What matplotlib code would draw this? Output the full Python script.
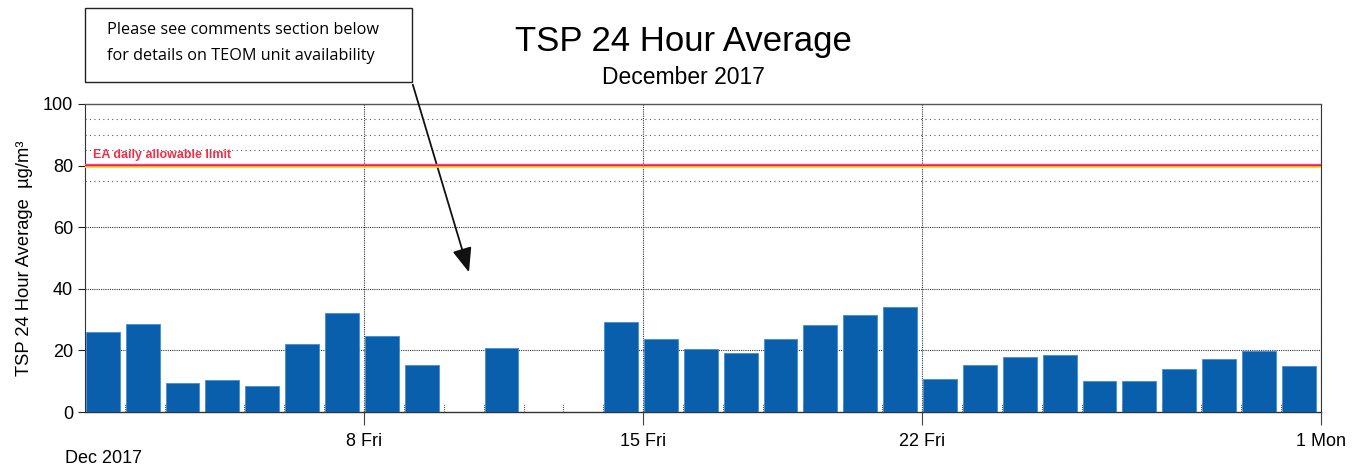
import matplotlib.pyplot as plt
import numpy as np

# daily TSP 24h averages, Dec 2017 (nan = no data)
days = np.arange(1, 32)
tsp = [26.0, 28.5, 9.5, 10.5, 8.6, 22.0, 32.2, 24.6, 15.2, np.nan,
       20.8, np.nan, np.nan, 29.2, 23.8, 20.5, 19.2, 23.8, 28.4, 31.6,
       34.1, 10.6, 15.2, 17.7, 18.4, 10.1, 10.2, 14.1, 17.3, 19.7, 14.8]
limit = 80
major_days = [8, 15, 22, 32]
major_labels = ["8 Fri", "15 Fri", "22 Fri", "1 Mon"]
light_grid = [75, 85, 90, 95]
dark_grid = [20, 40, 60]

plt.rcParams["font.family"] = ["Liberation Sans", "DejaVu Sans"]

fig = plt.figure(figsize=(13.6, 4.65), dpi=100)
ax = fig.add_axes([85 / 1360, 1 - 412 / 465, (1321 - 85) / 1360, (412 - 104) / 465])

x = days - 1
ax.bar(x + 0.02, tsp, width=0.85, align="edge", color="#0a5fad",
       edgecolor="#3f8fd6", linewidth=0.6, zorder=3)

# faint day boundary stubs at base
for d in x[1:]:
    ax.plot([d, d], [0, 2.5], color="#555555", lw=0.8, ls=(0, (1, 1)), zorder=2)

for g in dark_grid:
    ax.axhline(g, color="#333333", lw=0.8, ls=(0, (1, 1)), zorder=1)
for g in light_grid:
    ax.axhline(g, color="#555555", lw=0.8, ls=(0, (1, 3)), zorder=1)
for d in major_days:
    ax.axvline(d - 1, color="#333333", lw=0.8, ls=(0, (1, 1)), zorder=1)

# limit line: magenta / red / yellow stripes
ax.axhline(limit + 0.45, color="#f040c8", lw=1.0, zorder=4)
ax.axhline(limit, color="#e8201c", lw=1.4, zorder=4)
ax.axhline(limit - 0.45, color="#ffd21a", lw=1.2, zorder=4)
ax.text(0.2, limit + 1.6, "EA daily allowable limit", color="#f0304a",
        fontsize=9, fontweight="bold", va="bottom")

ax.set_xlim(0, 31)
ax.set_ylim(0, 100)
ax.set_yticks([0, 20, 40, 60, 80, 100])
ax.tick_params(axis="y", labelsize=13, length=5, color="#222222")
ax.set_xticks([d - 1 for d in major_days])
ax.set_xticklabels(major_labels)
ax.tick_params(axis="x", labelsize=13, length=9, color="#444444", pad=6)
for t in ax.xaxis.get_ticklines():
    t.set_linestyle((0, (1, 1)))

for s in ["left", "right"]:
    ax.spines[s].set_linestyle((0, (1, 1)))
    ax.spines[s].set_color("#333333")
    ax.spines[s].set_linewidth(0.8)
ax.spines["top"].set_color("#555555")
ax.spines["top"].set_linewidth(1.0)
ax.spines["bottom"].set_color("#333333")
ax.spines["bottom"].set_linewidth(1.0)

ax.set_ylabel("TSP 24 Hour Average  µg/m³", fontsize=13.2, labelpad=7)

fig.text(65 / 1360, 1 - 458 / 465, "Dec 2017", fontsize=13, va="center", ha="left")
fig.text(683 / 1360, 1 - 42 / 465, "TSP 24 Hour Average", fontsize=25,
         ha="center", va="center")
fig.text(683 / 1360, 1 - 77 / 465, "December 2017", fontsize=16.5,
         ha="center", va="center")

# comment box
fig.patches.append(plt.Rectangle((85 / 1360, 1 - 82 / 465), (412 - 85) / 1360,
                                 (82 - 8) / 465, transform=fig.transFigure,
                                 fill=False, edgecolor="#222222", lw=1.0))
fig.text(107 / 1360, 1 - 30 / 465, "Please see comments section below",
         fontsize=11.7, family=["Open Sans", "DejaVu Sans"], va="center")
fig.text(107 / 1360, 1 - 56 / 465, "for details on TEOM unit availability",
         fontsize=11.7, family=["Open Sans", "DejaVu Sans"], va="center")
ax.annotate("", xy=(9.65, 44.5), xycoords="data",
            xytext=(412 / 1360, 1 - 82 / 465), textcoords="figure fraction",
            arrowprops=dict(arrowstyle="-|>,head_length=1.5,head_width=0.6",
                            color="#111111", lw=1.3), annotation_clip=False)

fig.savefig("out.png", dpi=100, facecolor="white")
